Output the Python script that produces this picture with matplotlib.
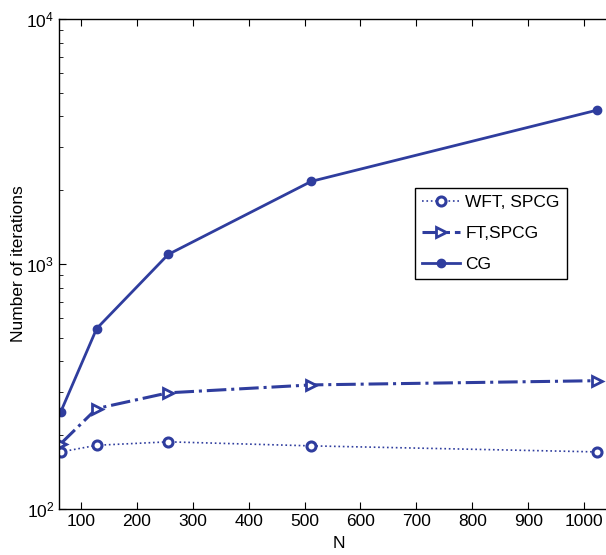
import numpy as np
import matplotlib.pyplot as plt

plt.rcParams['font.family'] = ['Liberation Sans', 'DejaVu Sans']

N = [64, 128, 256, 512, 1024]
wft_spcg = [171, 182, 188, 181, 171]
ft_spcg = [185, 257, 298, 321, 334]
cg = [250, 545, 1094, 2174, 4250]

blue = '#2f3d9e'

fig = plt.figure(figsize=(6.06, 5.55), dpi=100)
# right edge of the axes sits past the image border, like the cropped original
ax = fig.add_axes([59/606, 46/555, 560/606, 490/555])

ax.plot(N, wft_spcg, ':', color=blue, lw=1.2, marker='o', ms=6.5, mfc='white',
        mec=blue, mew=2.2, label='WFT, SPCG')
ax.plot(N, ft_spcg, '-.', color=blue, lw=2.2, marker='>', ms=7.5, mfc='white',
        mec=blue, mew=2.0, label='FT,SPCG')
ax.plot(N, cg, '-', color=blue, lw=2.0, marker='o', ms=6, mfc=blue,
        mec=blue, label='CG')

ax.set_yscale('log')
ax.set_ylim(100, 1e4)
ax.set_xlim(60.6, 1062.6)
ax.set_xticks(np.arange(100, 1001, 100))
ax.tick_params(which='both', direction='in', top=True, right=True, labelsize=12.5)
ax.tick_params(which='major', length=5)
ax.tick_params(which='minor', length=3)
for s in ax.spines.values():
    s.set_linewidth(1.0)

ax.set_xlabel('N', fontsize=12.5, labelpad=5)
ax.set_ylabel('Number of iterations', fontsize=12.5, labelpad=0)

leg = ax.legend(loc='upper left', bbox_to_anchor=(415/606, 1 - 188/555),
                bbox_transform=fig.transFigure, borderaxespad=0,
                fontsize=12.5, fancybox=False, framealpha=1, edgecolor='black',
                borderpad=0.4, handlelength=2.2, handletextpad=0.3,
                labelspacing=0.9)
leg.get_frame().set_linewidth(1.0)

fig.savefig('out.png', dpi=100)
